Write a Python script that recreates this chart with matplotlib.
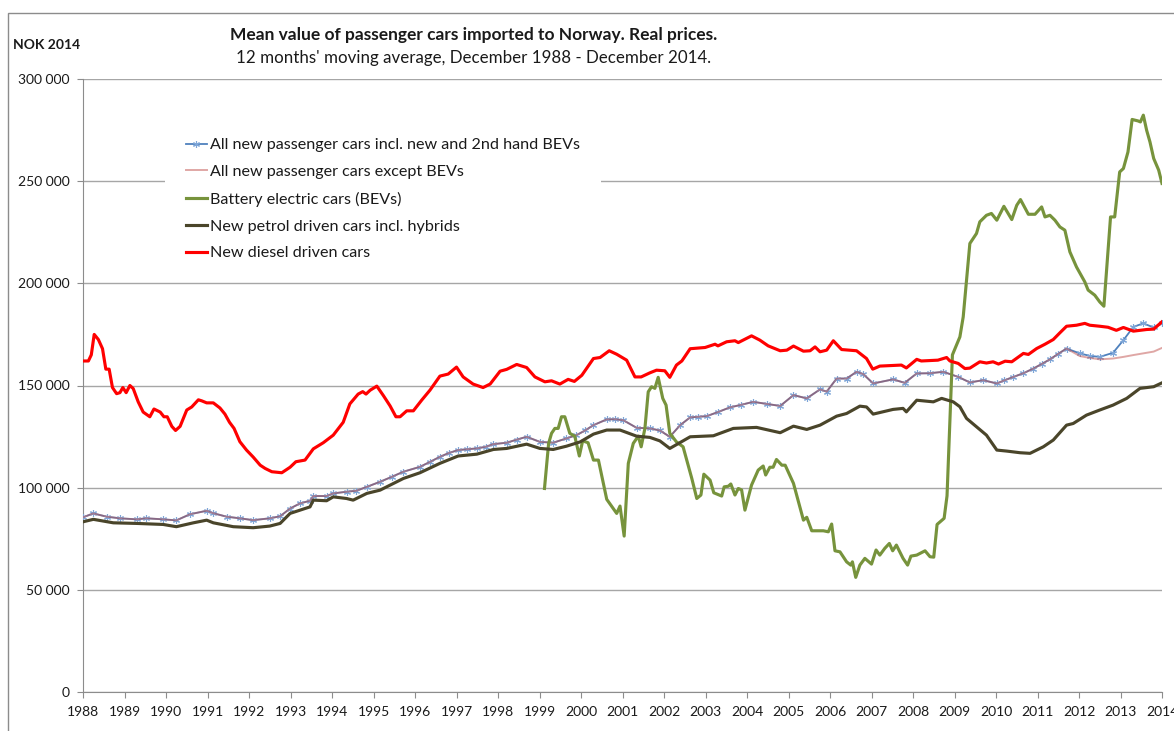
"""Mean value of passenger cars imported to Norway, real prices (line chart)."""

import matplotlib
matplotlib.use("Agg")
import matplotlib.pyplot as plt
from matplotlib.patches import Rectangle
from matplotlib.ticker import FuncFormatter, MultipleLocator

plt.rcParams["font.family"] = ["Lato", "DejaVu Sans"]

# (decimal year, NOK thousands)
all_new = [
    (1988.0, 85.5), (1988.25, 87.4), (1988.57, 85.8), (1988.89, 85), (1989.29, 84.5),
    (1989.53, 85), (1989.93, 84.5), (1990.25, 84), (1990.58, 87), (1990.98, 88.7),
    (1991.14, 87.5), (1991.46, 85.8), (1991.78, 85), (1992.1, 84.1), (1992.5, 85),
    (1992.75, 86), (1992.99, 89.8), (1993.23, 92.3), (1993.47, 93.6), (1993.55, 95.9),
    (1993.87, 95.9), (1994.03, 97.2), (1994.35, 98), (1994.59, 98.5), (1994.84, 100.4),
    (1995.16, 102.9), (1995.44, 105.3), (1995.72, 107.8), (1996.12, 110.2), (1996.36, 112.6),
    (1996.6, 115.1), (1996.82, 117), (1997.04, 118.4), (1997.25, 118.8), (1997.49, 119.2),
    (1997.7, 120), (1997.89, 121.3), (1998.21, 122), (1998.45, 123.5), (1998.69, 124.9),
    (1999.01, 122.4), (1999.33, 122), (1999.65, 124.1), (1999.89, 125.7), (2000.1, 128),
    (2000.3, 130.6), (2000.62, 133.4), (2000.82, 133.5), (2001.02, 133), (2001.34, 129.3),
    (2001.66, 129), (2001.9, 128), (2002.14, 124.9), (2002.39, 130.6), (2002.63, 134.4),
    (2002.83, 134.7), (2003.03, 135), (2003.3, 137), (2003.59, 139.3), (2003.85, 140.5),
    (2004.15, 142), (2004.47, 141), (2004.8, 140), (2005.12, 145.3), (2005.44, 143.7),
    (2005.76, 148.1), (2005.92, 147), (2006.16, 153.4), (2006.4, 153.4), (2006.64, 156.7),
    (2006.8, 155.6), (2007.04, 151), (2007.52, 153), (2007.8, 151.3), (2008.09, 155.9),
    (2008.4, 156), (2008.73, 156.7), (2009.09, 154.2), (2009.37, 151.5), (2009.69, 152.6),
    (2010.02, 151), (2010.2, 152.5), (2010.42, 154.2), (2010.66, 156), (2010.9, 158.3),
    (2011.1, 160.5), (2011.3, 162.8), (2011.5, 165.5), (2011.7, 168.1), (2012.02, 165.7),
    (2012.26, 164.5), (2012.5, 164), (2012.82, 166), (2013.07, 172.2), (2013.31, 178.7),
    (2013.55, 180.4), (2013.8, 178.4), (2014.0, 180.7),
]

except_bev_tail = [
    (2012.02, 164.4), (2012.26, 163.5), (2012.5, 162.8), (2012.82, 163.2),
    (2013.07, 164), (2013.31, 164.9), (2013.8, 166.6), (2014.0, 168.4),
]

bev = [
    (1999.12, 99.6), (1999.22, 121.7), (1999.29, 126.6), (1999.37, 129), (1999.45, 129),
    (1999.53, 134.7), (1999.61, 134.7), (1999.73, 126.6), (1999.85, 125.2), (1999.96, 115.5),
    (2000.04, 122.9), (2000.17, 122), (2000.3, 113.5), (2000.42, 113.5), (2000.62, 94.3),
    (2000.86, 87.4), (2000.94, 91), (2001.04, 76.3), (2001.14, 111.9), (2001.26, 121.7),
    (2001.38, 125.2), (2001.45, 120), (2001.54, 129), (2001.62, 146.9), (2001.7, 149.4),
    (2001.78, 148.6), (2001.86, 154), (2001.97, 143.7), (2002.05, 140.4), (2002.14, 126.6),
    (2002.3, 122.4), (2002.46, 120), (2002.67, 104.5), (2002.79, 94.7), (2002.89, 96.4),
    (2002.96, 106.6), (2003.11, 103.7), (2003.2, 97.5), (2003.39, 95.9), (2003.45, 100.4),
    (2003.55, 100.7), (2003.61, 101.8), (2003.71, 96.4), (2003.79, 99.6), (2003.87, 98.9),
    (2003.95, 89), (2004.11, 101.3), (2004.27, 108.6), (2004.39, 110.6), (2004.45, 106.2),
    (2004.55, 110), (2004.63, 110), (2004.71, 113.8), (2004.84, 111), (2004.92, 111),
    (2005.12, 102.1), (2005.36, 84.1), (2005.44, 85.5), (2005.56, 78.9), (2005.84, 78.9),
    (2005.96, 78.4), (2006.04, 82.2), (2006.12, 69.1), (2006.24, 68.6), (2006.4, 63.7),
    (2006.5, 62.1), (2006.54, 63.7), (2006.62, 56.1), (2006.72, 62.1), (2006.84, 65.4),
    (2007.0, 62.6), (2007.11, 69.5), (2007.2, 67), (2007.32, 70.3), (2007.43, 72.7),
    (2007.51, 69.1), (2007.6, 71.9), (2007.76, 65.4), (2007.87, 62.1), (2007.95, 66.5),
    (2008.09, 67), (2008.29, 69.1), (2008.41, 66.2), (2008.5, 66), (2008.58, 82),
    (2008.75, 85), (2008.82, 96), (2008.89, 133), (2008.95, 165), (2009.13, 173.8),
    (2009.21, 183.6), (2009.29, 201.5), (2009.37, 219.5), (2009.53, 224.4), (2009.61, 230.1),
    (2009.77, 233.3), (2009.89, 234.2), (2010.02, 230.9), (2010.19, 237.7), (2010.38, 231.2),
    (2010.5, 238.2), (2010.59, 241), (2010.78, 233.8), (2010.94, 233.8), (2011.1, 237.4),
    (2011.18, 232.5), (2011.3, 233.3), (2011.42, 230.9), (2011.54, 227.6), (2011.66, 226),
    (2011.78, 215.4), (2011.94, 208), (2012.14, 200.7), (2012.22, 196.7), (2012.38, 194.2),
    (2012.5, 190.9), (2012.6, 188.8), (2012.76, 232.5), (2012.86, 232.5), (2012.98, 254.5),
    (2013.07, 256.2), (2013.18, 264.3), (2013.28, 280.2), (2013.42, 279.5), (2013.48, 279),
    (2013.55, 282.3), (2013.63, 274.9), (2013.71, 269.2), (2013.8, 261.1), (2013.92, 255.4),
    (2014.0, 248.9),
]

petrol = [
    (1988.0, 83.3), (1988.25, 84.5), (1988.73, 82.8), (1989.29, 82.5), (1989.93, 82),
    (1990.25, 80.9), (1990.66, 82.8), (1990.98, 84.1), (1991.14, 82.8), (1991.62, 80.9),
    (1992.1, 80.4), (1992.5, 81.2), (1992.75, 82.5), (1992.99, 87.4), (1993.23, 89),
    (1993.47, 90.6), (1993.55, 93.9), (1993.87, 93.6), (1994.03, 95.5), (1994.35, 94.7),
    (1994.51, 93.9), (1994.84, 97.2), (1995.16, 98.8), (1995.72, 104.5), (1996.12, 107.3),
    (1996.6, 111.9), (1997.04, 115.5), (1997.49, 116.4), (1997.89, 118.7), (1998.21, 119.2),
    (1998.69, 121.3), (1999.01, 119.2), (1999.33, 118.7), (1999.65, 120.3), (1999.98, 122.4),
    (2000.3, 126.2), (2000.62, 128.2), (2000.94, 128.2), (2001.34, 125.2), (2001.66, 124.6),
    (2001.9, 122.9), (2002.14, 119.2), (2002.63, 124.9), (2003.19, 125.4), (2003.67, 129),
    (2004.23, 129.5), (2004.8, 126.9), (2005.12, 130.1), (2005.44, 128.5), (2005.76, 130.6),
    (2006.16, 135), (2006.4, 136.3), (2006.72, 139.9), (2006.88, 139.5), (2007.04, 136),
    (2007.52, 138.3), (2007.76, 138.8), (2007.84, 137.1), (2008.09, 142.8), (2008.49, 142),
    (2008.69, 143.7), (2008.97, 142), (2009.13, 139.6), (2009.29, 133.9), (2009.53, 129.8),
    (2009.77, 125.7), (2010.02, 118.4), (2010.26, 117.9), (2010.58, 117.1), (2010.82, 116.8),
    (2011.14, 120), (2011.38, 123.3), (2011.7, 130.6), (2011.86, 131.4), (2012.18, 135.5),
    (2012.5, 138), (2012.82, 140.4), (2013.15, 143.7), (2013.47, 148.6), (2013.8, 149.4),
    (2014.0, 151.3),
]

diesel = [
    (1988.0, 162), (1988.13, 162), (1988.2, 165), (1988.27, 175), (1988.37, 172.5),
    (1988.47, 168), (1988.55, 158), (1988.63, 158), (1988.71, 149), (1988.81, 146),
    (1988.89, 146.5), (1988.96, 149), (1989.04, 146.5), (1989.13, 150), (1989.21, 148.5),
    (1989.33, 142), (1989.45, 137), (1989.61, 134.7), (1989.71, 138.5), (1989.86, 137),
    (1989.95, 134.7), (1990.03, 134.7), (1990.14, 130), (1990.23, 128), (1990.34, 130),
    (1990.5, 138), (1990.62, 139.5), (1990.78, 143), (1990.86, 142.5), (1990.98, 141.5),
    (1991.14, 141.5), (1991.3, 139), (1991.42, 136), (1991.53, 132), (1991.64, 129),
    (1991.78, 122.5), (1991.94, 118.4), (1992.1, 115), (1992.27, 111), (1992.39, 109.4),
    (1992.55, 107.8), (1992.79, 107.3), (1992.99, 110), (1993.13, 112.7), (1993.35, 113.5),
    (1993.55, 119), (1993.79, 122), (1994.03, 125.7), (1994.27, 132), (1994.43, 141),
    (1994.63, 145.8), (1994.74, 147), (1994.82, 145.8), (1994.92, 147.7), (1995.08, 149.7),
    (1995.24, 145), (1995.4, 140), (1995.54, 134.7), (1995.64, 134.7), (1995.8, 137.6),
    (1995.96, 137.6), (1996.16, 142.8), (1996.36, 147.7), (1996.6, 154.6), (1996.8, 155.6),
    (1997.0, 159), (1997.16, 154.2), (1997.4, 150.7), (1997.64, 149), (1997.81, 150.7),
    (1998.05, 157), (1998.21, 157.9), (1998.45, 160.3), (1998.69, 158.8), (1998.89, 154.2),
    (1999.13, 151.8), (1999.29, 152.3), (1999.49, 150.7), (1999.69, 153), (1999.84, 152),
    (2000.02, 155), (2000.3, 163.2), (2000.46, 163.7), (2000.68, 167), (2000.86, 165.3),
    (2001.1, 162.4), (2001.3, 154.2), (2001.45, 154.2), (2001.66, 156.2), (2001.82, 157.5),
    (2002.02, 157.2), (2002.14, 154), (2002.3, 160), (2002.43, 162), (2002.63, 168),
    (2002.99, 168.6), (2003.23, 170.2), (2003.3, 169.4), (2003.51, 171.4), (2003.71, 171.9),
    (2003.79, 171), (2004.11, 174.3), (2004.31, 172.2), (2004.51, 169.4), (2004.8, 167),
    (2004.96, 167.3), (2005.12, 169.3), (2005.36, 166.8), (2005.52, 167), (2005.64, 168.9),
    (2005.76, 166.5), (2005.92, 167.3), (2006.08, 171.9), (2006.28, 167.6), (2006.64, 167),
    (2006.88, 163.2), (2007.03, 158), (2007.2, 159.5), (2007.72, 160), (2007.84, 158.6),
    (2008.09, 162.8), (2008.2, 162), (2008.6, 162.4), (2008.81, 163.7), (2008.89, 162),
    (2009.09, 160.8), (2009.25, 158.3), (2009.37, 158.5), (2009.61, 161.6), (2009.77, 161),
    (2009.93, 161.6), (2010.06, 160.5), (2010.22, 161.9), (2010.38, 161.6), (2010.66, 165.7),
    (2010.78, 165.2), (2010.98, 168.1), (2011.18, 170.2), (2011.38, 172.5), (2011.54, 175.8),
    (2011.7, 179), (2011.94, 179.5), (2012.14, 180.4), (2012.26, 179.5), (2012.5, 179),
    (2012.7, 178.5), (2012.9, 177), (2013.07, 178.4), (2013.31, 176.6), (2013.63, 177.4),
    (2013.8, 177.6), (2014.0, 181.2),
]

# BEVs were a negligible share until the last years, so the two "all new" series coincide
except_bev = [p for p in all_new if p[0] < 2012.0] + except_bev_tail

labels = [
    "All new passenger cars incl. new and 2nd hand BEVs",
    "All new passenger cars except BEVs",
    "Battery electric cars (BEVs)",
    "New petrol driven cars incl. hybrids",
    "New diesel driven cars",
]


def xy(series):
    xs = [p[0] for p in series]
    ys = [p[1] * 1000 for p in series]
    return xs, ys


W, H = 1174, 731
fig = plt.figure(figsize=(W / 100, H / 100), dpi=100)
ax = fig.add_axes([83 / W, 1 - 692 / H, (1162 - 83) / W, (692 - 79) / H])

# outer chart-area border (clipped on the right and bottom like the original)
fig.patches.append(Rectangle((8 / W, -0.2), 1.5, 1.2 - 13 / H, transform=fig.transFigure,
                             fill=False, edgecolor="#8c8c8c", lw=1.0, zorder=0))

ax.plot(*xy(all_new), color="#4F81BD", lw=1.3, marker=(6, 2, 0), ms=5, mew=0.8,
        mec="#7EA6D8", label=labels[0], zorder=3)
ax.plot(*xy(except_bev), color="#C0504D", alpha=0.5, lw=1.4, label=labels[1], zorder=4)
ax.plot(*xy(bev), color="#77933C", lw=2.25, label=labels[2], zorder=5)
ax.plot(*xy(petrol), color="#4A452A", lw=2.25, label=labels[3], zorder=6)
ax.plot(*xy(diesel), color="#FF0000", lw=2.25, label=labels[4], zorder=7)

ax.set_xlim(1988, 2014)
ax.set_ylim(0, 300000)
ax.xaxis.set_major_locator(MultipleLocator(1))
ax.yaxis.set_major_locator(MultipleLocator(50000))
ax.yaxis.set_major_formatter(FuncFormatter(lambda v, _: f"{int(v):,}".replace(",", " ")))
ax.grid(axis="y", color="#a6a6a6", lw=1.0, zorder=0)
ax.set_axisbelow(True)

for side in ("top", "right"):
    ax.spines[side].set_visible(False)
for side in ("left", "bottom"):
    ax.spines[side].set_color("#8c8c8c")
ax.tick_params(axis="both", direction="out", length=4, color="#8c8c8c", labelsize=10,
               labelcolor="#1a1a1a")
ax.tick_params(axis="x", pad=6)
ax.tick_params(axis="y", pad=5.5)

fig.text(13 / W, 1 - 45 / H, "NOK 2014", fontsize=10, fontweight="bold", va="center",
         color="#1a1a1a")
fig.text(474 / W, 1 - 35 / H, "Mean value of passenger cars imported to Norway. Real prices.",
         fontsize=12.5, fontweight="bold", ha="center", va="center", color="#1a1a1a")
fig.text(474 / W, 1 - 58 / H, "12 months' moving average, December 1988 - December 2014.",
         fontsize=12.2, ha="center", va="center", color="#1a1a1a")

leg = ax.legend(loc="upper left", bbox_to_anchor=(165 / W, 1 - 117 / H),
                bbox_transform=fig.transFigure, fontsize=11.6, frameon=True, fancybox=False,
                facecolor="white", edgecolor="none", framealpha=1, handlelength=1.3,
                handletextpad=0.2, labelspacing=0.78, borderpad=1.3, borderaxespad=0)
leg.set_zorder(10)
for t in leg.get_texts():
    t.set_color("#1a1a1a")

fig.savefig("out.png", dpi=100)
